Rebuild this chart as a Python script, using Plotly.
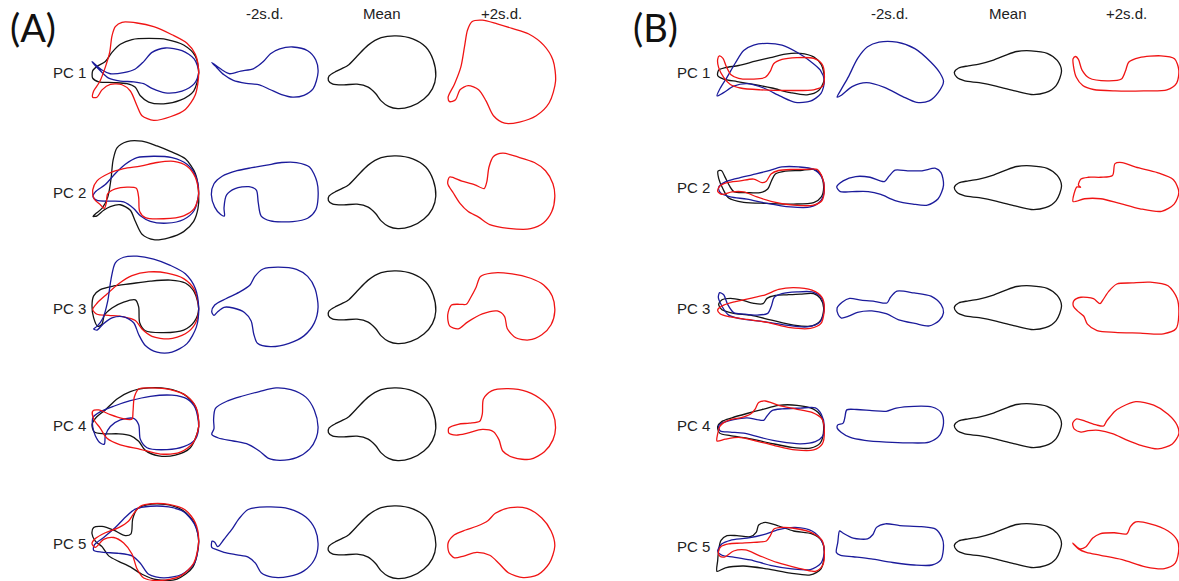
import plotly.graph_objects as go

# ---------------- data: traced outlines (x from shape's left edge, y relative to row line, +down) ----
# Panel A individual shapes (units: 2.69 per px)
A_MEAN = [[290,8],[283,-35],[263,-70],[228,-92],[183,-100],[143,-95],[108,-75],[78,-45],[53,-20],[23,-5],[3,8],[1,20],[13,30],[43,32],[78,30],[108,38],[128,55],[143,75],[163,90],[188,96],[223,90],[258,70],[281,42]]
A_PC1_NEG = [[288,-2],[282,-35],[260,-60],[220,-70],[185,-65],[160,-52],[140,-30],[115,-12],[80,-5],[50,2],[30,-8],[2,-28],[15,-15],[35,5],[60,20],[95,28],[130,32],[160,45],[190,58],[220,65],[250,60],[275,42]]
A_PC1_POS = [[292,22],[285,-35],[260,-75],[220,-105],[175,-120],[135,-132],[95,-142],[67,-138],[55,-115],[47,-70],[37,-15],[20,30],[3,65],[7,77],[23,72],[35,45],[57,34],[85,45],[105,75],[125,115],[155,135],[195,132],[240,115],[275,80]]
A_PC2_NEG = [[288,13],[285,-30],[265,-70],[230,-82],[190,-82],[150,-75],[110,-68],[70,-60],[30,-45],[8,-25],[1,5],[10,38],[26,58],[36,62],[35,40],[42,5],[65,-12],[102,-17],[122,-8],[127,25],[135,62],[160,75],[220,77],[260,68],[282,45]]
A_PC2_POS = [[290,10],[285,-25],[265,-60],[235,-82],[190,-97],[150,-107],[125,-98],[113,-70],[107,-30],[100,-12],[75,-22],[40,-32],[7,-43],[2,-25],[17,0],[35,28],[57,50],[85,65],[115,85],[165,95],[225,96],[260,80],[282,50]]
A_PC3_NEG = [[288,-2],[280,-52],[260,-85],[230,-104],[180,-110],[140,-105],[118,-85],[105,-62],[75,-42],[40,-25],[10,-8],[2,10],[8,20],[18,10],[35,-2],[60,0],[90,12],[108,35],[115,70],[125,95],[160,104],[210,95],[250,75],[278,40]]
A_PC3_POS = [[290,8],[283,-32],[260,-62],[225,-80],[175,-92],[120,-94],[90,-85],[78,-55],[63,-27],[52,-10],[35,-10],[12,-8],[2,18],[7,48],[30,56],[55,38],[95,16],[135,8],[155,23],[162,55],[185,80],[220,86],[255,72],[280,45]]
A_PC4_NEG = [[288,5],[278,-40],[255,-75],[215,-95],[175,-100],[130,-90],[85,-78],[45,-65],[12,-45],[7,-15],[8,10],[2,25],[20,35],[60,43],[100,52],[130,70],[155,90],[185,95],[230,88],[265,65],[283,35]]
A_PC4_POS = [[292,8],[285,-30],[258,-65],[215,-90],[160,-98],[120,-92],[98,-70],[95,-30],[88,-10],[60,-5],[30,-2],[5,8],[5,22],[25,27],[55,22],[95,12],[125,18],[140,40],[150,70],[180,88],[225,92],[262,72],[285,40]]
A_PC5_NEG = [[288,6],[280,-37],[255,-70],[210,-92],[150,-97],[100,-90],[75,-65],[55,-35],[35,-10],[18,10],[10,-2],[3,-5],[2,12],[15,18],[35,25],[70,32],[100,38],[120,55],[135,80],[165,92],[210,90],[250,75],[278,45]]
A_PC5_POS = [[290,8],[280,-32],[255,-67],[215,-93],[170,-95],[130,-80],[110,-60],[80,-45],[50,-35],[20,-22],[3,0],[5,25],[20,40],[45,35],[80,25],[115,33],[140,55],[165,80],[205,93],[245,85],[275,55]]

# Panel B individual shapes (units: 2.79 per px)
B_MEAN = [[300,-6],[288,-35],[260,-55],[215,-62],[175,-60],[145,-50],[110,-36],[70,-25],[40,-20],[13,-14],[1,-2],[8,12],[30,22],[70,27],[120,37],[170,50],[215,60],[255,55],[285,35]]
B_PC1_NEG = [[300,24],[290,0],[265,-30],[220,-68],[170,-86],[120,-86],[88,-73],[60,-40],[35,10],[15,45],[3,67],[15,62],[45,38],[85,27],[135,40],[185,65],[225,82],[260,78],[285,55]]
B_PC1_POS = [[298,-8],[286,-40],[248,-48],[188,-43],[158,-30],[150,-8],[138,17],[98,22],[48,14],[28,-8],[18,-38],[10,-46],[3,-40],[4,-20],[12,12],[30,35],[60,46],[120,50],[200,50],[265,47],[292,28]]
B_PC2_NEG = [[300,-8],[293,-43],[278,-55],[240,-48],[200,-48],[165,-50],[148,-33],[135,-18],[95,-30],[55,-32],[20,-20],[2,-3],[12,10],[45,10],[90,10],[125,18],[165,35],[215,45],[255,48],[285,30]]
B_PC2_POS = [[298,12],[283,-23],[238,-43],[178,-58],[140,-71],[120,-68],[113,-35],[80,-30],[45,-30],[25,-25],[18,-8],[24,-2],[14,-3],[6,15],[3,38],[35,30],[80,30],[130,42],[190,58],[250,65],[285,45]]
B_PC3_NEG = [[300,13],[293,-10],[265,-33],[218,-42],[170,-47],[152,-30],[142,-14],[110,-18],[70,-22],[38,-27],[18,-17],[3,0],[6,18],[15,28],[35,23],[60,12],[100,8],[140,16],[175,33],[220,43],[260,50],[288,35]]
B_PC3_POS = [[298,18],[293,-27],[268,-62],[218,-72],[168,-70],[125,-67],[103,-47],[86,-22],[78,-12],[60,-26],[25,-30],[5,-20],[4,-5],[15,8],[33,23],[43,45],[70,63],[120,68],[190,70],[255,72],[290,58]]
B_PC4_NEG = [[300,-8],[293,-38],[268,-53],[218,-55],[168,-50],[140,-41],[100,-43],[58,-46],[30,-45],[25,-25],[20,-8],[5,-3],[3,5],[15,18],[40,32],[80,40],[140,45],[200,47],[260,45],[290,25]]
B_PC4_POS = [[298,22],[293,-3],[268,-33],[228,-58],[178,-68],[138,-53],[118,-40],[108,-28],[96,-13],[88,0],[68,-3],[38,-13],[13,-20],[2,-8],[6,8],[25,17],[45,13],[75,12],[115,22],[150,38],[195,55],[240,64],[280,50]]
B_PC5_NEG = [[300,-2],[296,-22],[278,-47],[238,-54],[178,-57],[138,-62],[113,-52],[103,-32],[88,-20],[48,-22],[18,-37],[10,-42],[5,-10],[1,18],[13,26],[48,30],[98,36],[158,46],[218,53],[268,53],[293,38]]
B_PC5_POS = [[298,8],[293,-17],[268,-42],[218,-62],[178,-67],[163,-54],[153,-34],[118,-37],[78,-34],[58,-22],[38,3],[22,8],[2,-8],[18,8],[40,18],[80,26],[140,38],[205,58],[258,63],[288,48]]

# Overlay column traces (raw tracing frame)
A_OV_ORIGIN_X = 15
A_OV_ROW_Y = [166, 498, 828, 1156, 1490]
A_OV1_RED = [[335,165],[325,115],[300,85],[255,62],[200,40],[150,30],[105,28],[85,40],[75,65],[68,110],[55,150],[38,190],[20,215],[17,232],[30,232],[45,212],[70,197],[105,198],[130,215],[150,255],[165,282],[200,295],[250,285],[295,265],[325,225]]
A_OV1_BLUE = [[335,165],[322,128],[285,105],[235,98],[195,110],[170,135],[145,155],[110,165],[70,168],[45,158],[15,135],[40,160],[65,180],[100,188],[140,190],[170,195],[195,208],[235,220],[285,215],[322,195]]
A_OV1_BLACK = [[335,165],[325,120],[290,90],[240,75],[185,72],[135,75],[100,88],[75,110],[55,135],[30,148],[17,160],[17,180],[35,190],[80,192],[120,195],[145,205],[160,228],[185,245],[230,250],[280,240],[320,215]]
A_OV2_BLACK = [[335,500],[325,445],[295,405],[250,385],[210,370],[165,357],[120,358],[90,375],[78,410],[72,460],[62,510],[45,540],[25,555],[18,562],[30,560],[50,545],[70,535],[100,530],[130,545],[145,575],[165,610],[200,625],[245,620],[290,603],[320,575],[333,540]]
A_OV2_RED = [[335,500],[325,455],[300,425],[260,412],[210,415],[160,425],[110,432],[65,445],[30,465],[17,490],[22,515],[40,530],[52,540],[58,525],[62,500],[85,487],[120,482],[148,485],[155,510],[158,548],[175,565],[230,568],[290,560],[322,540]]
A_OV2_BLUE = [[335,495],[325,450],[300,420],[255,402],[200,398],[150,402],[115,420],[85,445],[55,475],[25,495],[18,508],[30,518],[70,520],[110,522],[140,540],[160,560],[190,575],[240,580],[290,570],[322,545]]
A_OV3_BLUE = [[335,830],[325,775],[295,735],[250,712],[200,695],[150,687],[110,690],[85,705],[72,750],[62,810],[48,855],[30,878],[20,885],[30,888],[48,872],[75,855],[110,852],[140,868],[155,900],[175,930],[210,948],[255,948],[300,925],[328,880]]
A_OV3_RED = [[335,830],[322,778],[290,748],[240,733],[185,730],[135,740],[95,762],[60,790],[30,815],[17,832],[30,845],[65,848],[110,852],[145,862],[165,885],[195,905],[245,912],[295,898],[325,870]]
A_OV3_BLACK = [[335,830],[322,785],[295,760],[250,752],[190,755],[130,762],[80,768],[40,778],[20,795],[15,822],[20,855],[32,878],[45,872],[52,848],[75,828],[110,812],[145,806],[155,825],[158,868],[175,890],[230,895],[290,888],[322,865]]
A_OV4_RED = [[335,1160],[328,1110],[300,1078],[250,1060],[195,1055],[155,1058],[142,1080],[138,1120],[135,1140],[105,1138],[70,1128],[35,1115],[17,1118],[20,1140],[40,1165],[60,1192],[100,1210],[160,1222],[220,1235],[280,1230],[318,1205]]
A_OV4_BLUE = [[335,1160],[325,1110],[300,1085],[255,1075],[190,1078],[130,1090],[80,1105],[40,1120],[18,1135],[17,1160],[25,1185],[40,1205],[52,1208],[55,1185],[70,1160],[100,1142],[140,1138],[155,1155],[160,1195],[180,1218],[240,1223],[290,1215],[325,1195]]
A_OV4_BLACK = [[335,1160],[325,1105],[290,1072],[240,1057],[185,1055],[130,1065],[90,1085],[55,1115],[28,1135],[15,1155],[22,1175],[50,1180],[95,1180],[130,1185],[155,1200],[175,1225],[215,1240],[265,1238],[310,1218]]
A_OV5_RED = [[335,1485],[325,1435],[295,1400],[245,1385],[195,1383],[160,1390],[140,1410],[125,1430],[95,1448],[55,1462],[25,1478],[15,1492],[25,1502],[50,1480],[80,1475],[110,1490],[135,1520],[150,1560],[170,1585],[220,1592],[280,1580],[320,1545]]
A_OV5_BLACK = [[335,1485],[322,1435],[285,1400],[235,1385],[180,1386],[150,1398],[137,1425],[132,1465],[115,1470],[80,1455],[45,1445],[20,1448],[15,1465],[25,1485],[45,1500],[65,1525],[95,1540],[130,1555],[165,1575],[210,1590],[270,1588],[318,1555]]
A_OV5_BLUE = [[335,1485],[322,1438],[290,1405],[245,1392],[190,1390],[145,1398],[115,1420],[85,1448],[50,1475],[22,1495],[20,1510],[45,1515],[95,1518],[135,1525],[160,1545],[185,1575],[230,1585],[285,1575],[322,1545]]

B_OV_ORIGIN_X = 20
B_OV_ROW_Y = [123, 467, 805, 1148, 1484]
B_OV1_BLUE = [[342,145],[330,115],[300,90],[260,65],[215,45],[170,40],[130,45],[100,60],[75,95],[50,135],[30,165],[20,187],[40,178],[70,160],[110,153],[160,165],[210,188],[255,205],[300,202],[332,180]]
B_OV1_RED = [[342,125],[335,98],[310,82],[260,80],[215,85],[190,97],[180,118],[165,135],[130,140],[85,138],[62,128],[48,105],[38,82],[27,75],[22,85],[25,108],[40,135],[60,155],[90,165],[150,170],[240,172],[310,170],[337,160]]
B_OV1_BLACK = [[342,140],[333,100],[310,78],[270,68],[225,70],[180,80],[135,90],[85,102],[45,108],[25,115],[22,130],[40,140],[80,147],[130,155],[185,165],[240,178],[290,184],[325,172]]
B_OV2_BLACK = [[340,465],[332,430],[310,415],[270,418],[225,420],[195,428],[183,448],[172,470],[150,480],[110,480],[72,478],[58,462],[45,438],[33,418],[23,420],[25,440],[38,470],[55,495],[100,507],[170,510],[250,512],[310,508],[333,492]]
B_OV2_BLUE = [[342,470],[335,438],[310,415],[265,408],[215,408],[170,420],[125,430],[80,440],[45,450],[25,465],[30,480],[60,492],[110,498],[170,510],[240,520],[300,520],[332,502]]
B_OV2_RED = [[342,470],[337,440],[320,415],[285,415],[245,415],[205,418],[182,428],[168,448],[155,452],[130,442],[90,447],[50,452],[28,462],[22,476],[35,485],[65,478],[100,478],[140,492],[185,505],[250,515],[310,515],[335,502]]
B_OV3_BLUE = [[342,805],[332,775],[305,760],[260,760],[215,765],[192,775],[183,800],[172,820],[140,825],[100,822],[70,818],[52,795],[40,768],[28,762],[24,775],[35,800],[55,825],[90,835],[150,842],[220,852],[290,858],[330,843]]
B_OV3_RED = [[342,805],[335,775],[305,755],[250,748],[205,753],[165,768],[120,778],[75,787],[40,797],[22,810],[30,822],[60,830],[110,837],[170,845],[240,860],[300,862],[332,848]]
B_OV3_BLACK = [[340,805],[330,778],[310,765],[270,766],[230,768],[195,770],[170,778],[158,793],[130,792],[95,783],[60,778],[35,782],[25,795],[35,810],[70,820],[120,825],[180,838],[250,853],[305,855],[332,838]]
B_OV4_RED = [[342,1160],[335,1128],[305,1110],[255,1100],[205,1090],[165,1078],[145,1082],[135,1100],[120,1115],[90,1125],[60,1130],[38,1140],[28,1150],[22,1170],[20,1190],[45,1185],[85,1180],[130,1188],[190,1202],[255,1215],[310,1215],[336,1198]]
B_OV4_BLUE = [[342,1150],[333,1115],[315,1097],[270,1098],[215,1100],[185,1105],[170,1120],[160,1132],[140,1130],[110,1125],[70,1130],[40,1138],[25,1148],[30,1162],[60,1165],[100,1168],[150,1180],[210,1192],[270,1198],[315,1192],[336,1178]]
B_OV4_BLACK = [[340,1158],[333,1122],[308,1100],[260,1090],[205,1090],[155,1102],[110,1113],[65,1125],[35,1135],[22,1150],[28,1168],[60,1175],[110,1182],[175,1195],[245,1208],[300,1210],[330,1195]]
B_OV5_BLACK = [[342,1500],[333,1468],[305,1450],[250,1442],[205,1428],[165,1418],[145,1425],[138,1445],[120,1458],[80,1455],[50,1455],[32,1468],[25,1495],[22,1525],[20,1555],[45,1545],[100,1540],[170,1548],[240,1560],[300,1565],[332,1548]]
B_OV5_BLUE = [[342,1500],[333,1468],[305,1442],[255,1432],[205,1438],[160,1452],[110,1462],[60,1468],[35,1478],[22,1498],[35,1510],[70,1515],[120,1523],[180,1538],[245,1548],[300,1550],[332,1532]]
B_OV5_RED = [[342,1500],[335,1468],[305,1447],[255,1435],[215,1432],[190,1437],[180,1455],[168,1470],[130,1474],[90,1476],[55,1478],[33,1485],[24,1500],[28,1512],[42,1515],[70,1498],[105,1495],[145,1510],[200,1530],[260,1545],[315,1555],[337,1538]]

ROW_LABELS = ["PC 1", "PC 2", "PC 3", "PC 4", "PC 5"]
COL_TITLES = ["-2s.d.", "Mean", "+2s.d."]
PANEL_TITLES = ["(A)", "(B)"]

# ---------------- layout constants ----------------
W, H = 1179, 581
BLUE, RED, BLACK = "#1b1b9b", "#f01414", "#141414"
LW = 1.3
SHAPE_W = 108
TXT_FONT = "Liberation Sans, Arial, sans-serif"

panels = [
    dict(title=PANEL_TITLES[0], title_x=8, cols=[92, 211, 328, 447], rows=[73, 193, 308, 425, 543],
         s_ind=(2.69, 2.69), s_ov=(3.0, 2.72),
         ov_x0=A_OV_ORIGIN_X, ov_rows=A_OV_ROW_Y, label_x=88,
         mean=A_MEAN,
         neg=[A_PC1_NEG, A_PC2_NEG, A_PC3_NEG, A_PC4_NEG, A_PC5_NEG],
         pos=[A_PC1_POS, A_PC2_POS, A_PC3_POS, A_PC4_POS, A_PC5_POS],
         ov=[[(A_OV1_BLACK, BLACK), (A_OV1_BLUE, BLUE), (A_OV1_RED, RED)],
             [(A_OV2_BLACK, BLACK), (A_OV2_BLUE, BLUE), (A_OV2_RED, RED)],
             [(A_OV3_BLACK, BLACK), (A_OV3_RED, RED), (A_OV3_BLUE, BLUE)],
             [(A_OV4_BLACK, BLACK), (A_OV4_BLUE, BLUE), (A_OV4_RED, RED)],
             [(A_OV5_BLACK, BLACK), (A_OV5_BLUE, BLUE), (A_OV5_RED, RED)]]),
    dict(title=PANEL_TITLES[1], title_x=631, cols=[717, 836, 954, 1072], rows=[73, 188, 308, 426, 546],
         s_ind=(2.79, 2.79), s_ov=(3.0, 2.8),
         ov_x0=B_OV_ORIGIN_X, ov_rows=B_OV_ROW_Y, label_x=712,
         mean=B_MEAN,
         neg=[B_PC1_NEG, B_PC2_NEG, B_PC3_NEG, B_PC4_NEG, B_PC5_NEG],
         pos=[B_PC1_POS, B_PC2_POS, B_PC3_POS, B_PC4_POS, B_PC5_POS],
         ov=[[(B_OV1_BLACK, BLACK), (B_OV1_BLUE, BLUE), (B_OV1_RED, RED)],
             [(B_OV2_BLACK, BLACK), (B_OV2_BLUE, BLUE), (B_OV2_RED, RED)],
             [(B_OV3_BLACK, BLACK), (B_OV3_BLUE, BLUE), (B_OV3_RED, RED)],
             [(B_OV4_BLACK, BLACK), (B_OV4_BLUE, BLUE), (B_OV4_RED, RED)],
             [(B_OV5_BLACK, BLACK), (B_OV5_BLUE, BLUE), (B_OV5_RED, RED)]]),
]

fig = go.Figure()
layout_axes = {}
counter = [0]


def add_cell(px_left, px_anchor, scale, x0, y0, shapes):
    sx, sy = scale
    counter[0] += 1
    n = counter[0]
    xa = "xaxis" if n == 1 else f"xaxis{n}"
    ya = "yaxis" if n == 1 else f"yaxis{n}"
    xr = "x" if n == 1 else f"x{n}"
    yr = "y" if n == 1 else f"y{n}"
    pad = 6
    dl = max(0, px_left - pad)
    dr = min(W, px_left + SHAPE_W + pad)
    dt = max(0, px_anchor - 64)
    db = min(H, px_anchor + 64)
    layout_axes[xa] = dict(domain=[dl / W, dr / W],
                           range=[x0 + (dl - px_left) * sx, x0 + (dr - px_left) * sx],
                           visible=False, anchor=yr, fixedrange=True)
    layout_axes[ya] = dict(domain=[1 - db / H, 1 - dt / H],
                           range=[y0 + (db - px_anchor) * sy, y0 + (dt - px_anchor) * sy],
                           visible=False, anchor=xr, fixedrange=True)
    for pts, color in shapes:
        xs = [p[0] for p in pts] + [pts[0][0]]
        ys = [p[1] for p in pts] + [pts[0][1]]
        fig.add_trace(go.Scatter(x=xs, y=ys, mode="lines",
                                 line=dict(color=color, width=LW, shape="spline", smoothing=0.8),
                                 xaxis=xr, yaxis=yr, hoverinfo="skip", showlegend=False))


annotations = []
for P in panels:
    for r, anchor in enumerate(P["rows"]):
        add_cell(P["cols"][0], anchor, P["s_ov"], P["ov_x0"], P["ov_rows"][r], P["ov"][r])
        add_cell(P["cols"][1], anchor, P["s_ind"], 0, 0, [(P["neg"][r], BLUE)])
        add_cell(P["cols"][2], anchor, P["s_ind"], 0, 0, [(P["mean"], BLACK)])
        add_cell(P["cols"][3], anchor, P["s_ind"], 0, 0, [(P["pos"][r], RED)])
        annotations.append(dict(text=ROW_LABELS[r], x=P["label_x"] / W, y=1 - anchor / H,
                                xref="paper", yref="paper", xanchor="right", yanchor="middle",
                                showarrow=False, font=dict(family=TXT_FONT, size=15, color="#222")))
    for c, t in enumerate(COL_TITLES):
        cx = P["cols"][c + 1] + SHAPE_W / 2
        annotations.append(dict(text=t, x=cx / W, y=1 - 14 / H, xref="paper", yref="paper",
                                xanchor="center", yanchor="middle", showarrow=False,
                                font=dict(family=TXT_FONT, size=15, color="#222")))
    annotations.append(dict(text=P["title"], x=P["title_x"] / W, y=1 - 27 / H, xref="paper", yref="paper",
                            xanchor="left", yanchor="middle", showarrow=False,
                            font=dict(family="Lato, Open Sans, sans-serif", size=38, color="#111")))

fig.update_layout(width=W, height=H, margin=dict(l=0, r=0, t=0, b=0),
                  paper_bgcolor="white", plot_bgcolor="white",
                  annotations=annotations, showlegend=False, **layout_axes)

fig.write_html("out.html", config={"displayModeBar": False})
